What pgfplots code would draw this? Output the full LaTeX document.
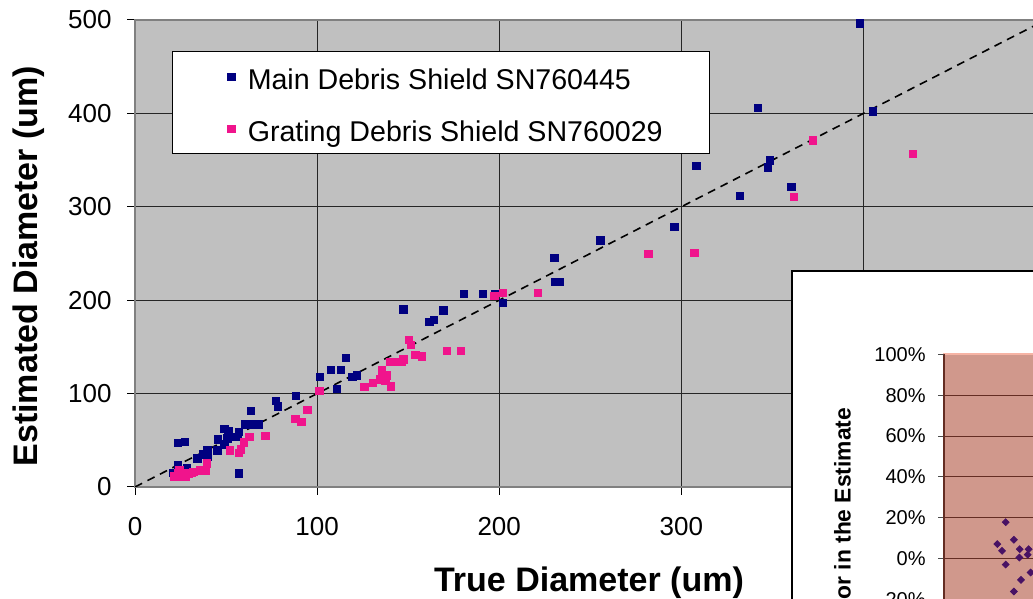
\documentclass[border=0pt]{standalone}
\usepackage{fontspec}
\setmainfont{Liberation Sans}
\usepackage{pgfplots}
\pgfplotsset{compat=1.18}
\definecolor{plotbg}{HTML}{C0C0C0}
\definecolor{navyc}{HTML}{000080}
\definecolor{pinkc}{RGB}{240,20,140}
\definecolor{insetbg}{RGB}{208,152,140}
\definecolor{insetgrid}{RGB}{100,45,35}
\definecolor{salmonc}{RGB}{246,180,165}
\definecolor{diam}{RGB}{72,18,100}
\begin{document}
\begin{tikzpicture}
\useasboundingbox (0,0) rectangle (516.5pt,299.5pt);
\clip (0,0) rectangle (516.5pt,299.5pt);
\begin{axis}[
  scale only axis, width=455.25pt, height=233.5pt,
  at={(67.5pt,56pt)}, anchor=south west,
  xmin=0, xmax=500, ymin=0, ymax=500,
  xtick={0,100,...,500}, ytick={0,100,...,500},
  tick pos=left,
  grid=major, major grid style={black!85, line width=0.5pt},
  axis line style={black!50, line width=0.6pt},
  axis background/.style={fill=plotbg},
  tick align=outside, major tick length=4pt, tick style={black, line width=0.5pt},
  /pgf/number format/assume math mode=true,
  ticklabel style={font=\fontsize{13}{15}\selectfont},
  yticklabel style={anchor=east, inner sep=0pt, xshift=-7.5pt},
  xticklabel style={anchor=base, inner sep=0pt, yshift=-20pt},
  xlabel={True Diameter (um)}, ylabel={Estimated Diameter (um)},
  label style={font=\bfseries\fontsize{17}{20}\selectfont},
  xlabel style={at={(axis description cs:0.4986,-0.2248)}, anchor=base},
  ylabel style={at={(axis description cs:-0.1076,0.473)}, anchor=base},
  legend cell align=left,
  legend image code/.code={\path (-7.5pt,0pt) (6pt,0pt); \draw[#1] plot coordinates {(0pt,0pt)};},
  legend style={at={(axis description cs:0.0406,0.934)}, anchor=north west,
    draw=black, line width=0.6pt, fill=white, font=\fontsize{14.3}{17}\selectfont,
    inner xsep=21.5pt, inner ysep=4.4pt, row sep=9.4pt,
    nodes={text height=12.5pt, text depth=0pt}},
]
\addplot[only marks, mark=square*, mark size=1.9pt, mark options={draw=navyc, fill=navyc, line width=0.2pt}] coordinates {
(20.9,15.3) (23.4,23.5) (23.5,47.5) (27.2,48.5) (28.4,20) (34.2,31) (37.5,35.2)
(39.8,40) (39.8,32.5) (45,39.6) (45.5,51.3) (48.9,62.5) (51.1,60) (48.9,46)
(50.5,52.5) (54,53.9) (56.9,59.2) (56.2,53.9) (56.9,14.5) (60.4,67) (63.6,81.7)
(64,67.5) (67.8,67.5) (77.3,92.6) (78.4,86.8) (88.2,97.6) (101.4,118.1)
(107.5,125.4) (113,125.4) (110.8,105.2) (115.8,138.3) (119.2,118) (121.7,120)
(147.2,190.6) (161.6,176.8) (164,179) (169.4,189.5) (180.6,206.8) (191,206.8)
(197.6,206.8) (202,197.3) (230.1,245.5) (230.8,219.8) (233,219.8) (255.4,264.5)
(296,278.7) (308.1,344) (332,311.9) (341.9,406.1) (348.5,350.1) (347.4,342.6)
(360.2,321.5) (405.1,402.6) (398,496.8)
};
\addlegendentry{Main Debris Shield SN760445}
\addplot[only marks, mark=square*, mark size=1.9pt, mark options={draw=pinkc, fill=pinkc, line width=0.2pt}] coordinates {
(21.4,11.6) (22,11.8) (23.8,14.5) (24.3,18.2) (25.6,11) (27.5,11.8) (29.3,14.7)
(31.1,15.3) (32,16.4) (35.7,18.2) (38.4,18.2) (39.4,25.4) (52.1,39.6) (57,36.7)
(58,40.3) (59.8,47.8) (62.6,53.9) (71.4,55) (87.9,73.2) (91.2,70) (94.4,82.6)
(101,103.1) (125.7,107.4) (130.6,111.7) (135.5,125.3) (134.6,115.3) (138.3,119.8)
(137.3,114.6) (140.5,108.1) (140,134.2) (143.5,134.2) (146.4,134.2) (147.4,136.7)
(150.4,157.5) (151.5,152.2) (153.8,141.8) (157.5,140.3) (171.2,146) (178.9,146)
(197.1,204.8) (202,208) (221.1,208) (281.7,249.8) (307,250.9) (361.7,310.8)
(372.2,371.5) (427.1,356.9)
};
\addlegendentry{Grating Debris Shield SN760029}
\addplot[black, line width=0.8pt, dash pattern=on 4pt off 3pt, forget plot] coordinates {(0,0) (500,500)};
\end{axis}
\draw[black, line width=1pt, fill=white] (395.85pt,164.15pt) rectangle (540pt,-20pt);
\begin{axis}[
  scale only axis, width=455pt, height=204.5pt,
  at={(472pt,122.35pt)}, anchor=north west,
  xmin=0, xmax=500, ymin=-100, ymax=100,
  axis x line=none, axis y line*=left,
  y axis line style={insetgrid, line width=0.7pt, -},
  axis background/.style={fill=insetbg, draw=salmonc, line width=1.2pt},
  ytick={-100,-80,...,80},
  extra y ticks={100}, extra y tick style={grid=none},
  yticklabel={\pgfmathprintnumber{\tick}\%},
  ymajorgrids, major grid style={insetgrid, line width=0.5pt},
  tick align=outside, major tick length=3pt, tick style={black!70, line width=0.5pt},
  /pgf/number format/assume math mode=true,
  yticklabel style={font=\fontsize{10}{12}\selectfont, anchor=east, inner sep=0pt, xshift=-6pt},
  ylabel={Error in the Estimate},
  ylabel style={font=\bfseries\fontsize{11.4}{13}\selectfont, at={(axis description cs:-0.1025,0.886)}, anchor=base east},
]
\addplot[only marks, mark=square*, mark size=1.2pt, mark options={rotate=45, draw=diam, fill=diam}] coordinates {
(33.9,17.9) (29.3,7.2) (31.9,3.9) (38.4,9.3) (41.6,4.7) (46.5,4.7) (41.4,0.6)
(46,2.0) (33.9,-2.8) (47.6,-6.7) (42.3,-10.3) (38.4,-16)
};
\end{axis}
\end{tikzpicture}
\end{document}
